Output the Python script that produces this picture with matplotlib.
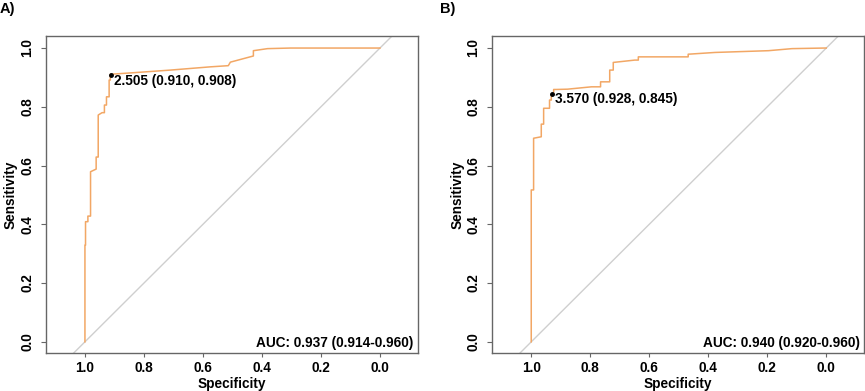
import matplotlib
matplotlib.use("Agg")
import matplotlib.pyplot as plt

plt.rcParams['font.family'] = ['Liberation Sans', 'DejaVu Sans']
plt.rcParams['font.weight'] = 'bold'

# Panel A ROC curve vertices (specificity, sensitivity)
spec_a = [1.0, 1.0, 0.998, 0.998, 0.990, 0.990, 0.981, 0.981, 0.962, 0.962, 0.955, 0.955,
          0.942, 0.934, 0.934, 0.927, 0.927, 0.918, 0.918, 0.914, 0.914, 0.910, 0.836, 0.710,
          0.575, 0.514, 0.507, 0.429, 0.429, 0.381, 0.303, 0.005, 0.0]
sens_a = [0.0, 0.329, 0.329, 0.409, 0.409, 0.428, 0.428, 0.579, 0.588, 0.629, 0.629, 0.772,
          0.780, 0.780, 0.806, 0.806, 0.834, 0.834, 0.891, 0.891, 0.911, 0.911, 0.916, 0.925,
          0.936, 0.940, 0.952, 0.973, 0.991, 0.998, 1.0, 1.0, 1.0]

# Panel B ROC curve vertices
spec_b = [1.0, 1.0, 0.992, 0.992, 0.966, 0.966, 0.958, 0.958, 0.938, 0.938, 0.932, 0.932,
          0.924, 0.924, 0.915, 0.877, 0.796, 0.765, 0.765, 0.734, 0.734, 0.722, 0.722, 0.649,
          0.637, 0.637, 0.468, 0.468, 0.377, 0.196, 0.116, 0.006, 0.0]
sens_b = [0.0, 0.517, 0.517, 0.693, 0.698, 0.741, 0.741, 0.795, 0.795, 0.823, 0.823, 0.840,
          0.840, 0.859, 0.859, 0.860, 0.868, 0.868, 0.885, 0.885, 0.925, 0.925, 0.951, 0.959,
          0.959, 0.970, 0.970, 0.979, 0.985, 0.991, 0.998, 1.0, 1.0]

best_a = (0.910, 0.908)
best_b = (0.928, 0.845)
best_label_a = "2.505 (0.910, 0.908)"
best_label_b = "3.570 (0.928, 0.845)"
auc_a = "AUC: 0.937 (0.914-0.960)"
auc_b = "AUC: 0.940 (0.920-0.960)"
panel_labels = ["A)", "B)"]
ticks = [1.0, 0.8, 0.6, 0.4, 0.2, 0.0]

curve_color = "#F2A765"
diag_color = "#CFCFCF"
box_color = "#666666"
fs = 9.8

W, H = 865, 391
fig = plt.figure(figsize=(W / 100, H / 100), dpi=100)

axes_px = [(46, 36, 418, 353), (492.3, 36, 864.3, 353)]
data = [(spec_a, sens_a, best_a, best_label_a, auc_a),
        (spec_b, sens_b, best_b, best_label_b, auc_b)]
label_x = [0, 440]

for i, ((x0, y0, x1, y1), (sp, se, best, blabel, auc)) in enumerate(zip(axes_px, data)):
    w_px, h_px = x1 - x0, y1 - y0
    ax = fig.add_axes([x0 / W, 1 - y1 / H, w_px / W, h_px / H])
    ax.set_xlim(1.132, -0.129)
    ax.set_ylim(-0.038, 1.041)
    ax.axline((1, 0), (0, 1), color=diag_color, lw=1.0, zorder=1)
    ax.plot(sp, se, color=curve_color, lw=1.1, zorder=2)
    ax.plot([best[0]], [best[1]], 'o', color='black', ms=2.5, zorder=3)
    ax.annotate(blabel, xy=best, xytext=(2, -4), textcoords='offset points',
                ha='left', va='center', fontsize=fs, fontweight='bold')
    ax.text(-0.113, -0.005, auc, ha='right', va='center', fontsize=fs, fontweight='bold')
    ax.set_xticks(ticks)
    ax.set_yticks(ticks)
    ax.set_xticklabels([f"{t:.1f}" for t in ticks], fontsize=fs, fontweight='bold')
    ax.set_yticklabels([f"{t:.1f}" for t in ticks], fontsize=fs, fontweight='bold',
                       rotation=90, va='center')
    ax.tick_params(axis='x', length=3, width=0.8, color=box_color, pad=2.5)
    ax.tick_params(axis='y', length=3.5, width=0.8, color=box_color, pad=5)
    for s in ax.spines.values():
        s.set_color(box_color)
        s.set_linewidth(1.0)
    ax.set_xlabel("Specificity", fontsize=fs, fontweight='bold')
    ax.set_ylabel("Sensitivity", fontsize=fs, fontweight='bold')
    ax.xaxis.label.set_va('center')
    ax.yaxis.label.set_va('center')
    ax.xaxis.set_label_coords(0.5, -(384 - y1) / h_px)
    ax.yaxis.set_label_coords(-(x0 - (11 + (x0 - 46))) / w_px, 0.5)
    fig.text(label_x[i] / W, 1 - 9 / H, panel_labels[i], fontsize=10.5,
             fontweight='bold', ha='left', va='center')

fig.savefig("out.png", dpi=100)
